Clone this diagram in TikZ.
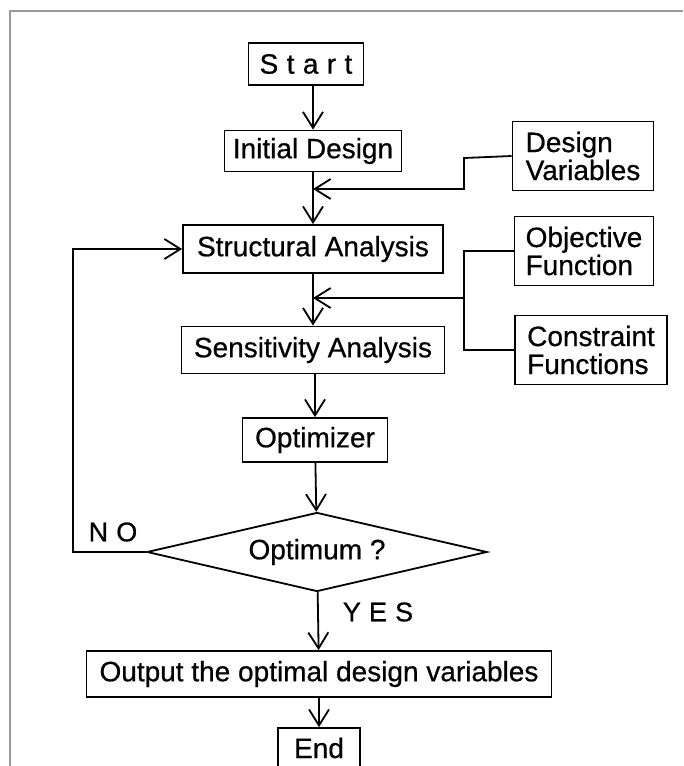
\documentclass[tikz,border=0pt]{standalone}
\usepackage{fontspec}
\setmainfont{Liberation Sans}[FakeBold=0.6]
\newfontfamily\spaced[LetterSpace=30, FakeBold=0.6]{Liberation Sans}
\usetikzlibrary{arrows.meta, shapes.geometric}

\begin{document}
\begin{tikzpicture}[x=1pt, y=-1pt, line width=1.8pt, flow/.style={-{Straight Barb[length=16pt, width=20pt]}}, block/.style={draw, inner sep=0pt, font=\fontsize{28}{28}\selectfont}, side/.style={block, align=left, minimum height=69pt}, decide/.style={draw, diamond, aspect=4.3, inner sep=0pt, minimum width=340pt, minimum height=79pt, font=\fontsize{28}{28}\selectfont}, label/.style={font=\fontsize{27}{28}\selectfont\spaced}]

\useasboundingbox (0,0) rectangle (683,766);
\draw[gray!80, line width=1.5pt] (683,11) -- (10,11) -- (10,766);

% main column
\node[block, minimum width=115pt, minimum height=42pt] (start) at (306,64) {\spaced Start};
\node[block, minimum width=177pt, minimum height=41pt] (init) at (313,151) {Initial Design};
\node[block, minimum width=260pt, minimum height=48pt] (struct) at (313,249) {Structural Analysis};
\node[block, minimum width=263pt, minimum height=47pt] (sens) at (313,350) {Sensitivity Analysis};
\node[block, minimum width=145pt, minimum height=44pt] (opt) at (315,440) {Optimizer};
\node[decide] (check) at (317,552) {Optimum ?};
\node[block, minimum width=465pt, minimum height=46pt] (output) at (319,674) {Output the optimal design variables};
\node[block, minimum width=82pt, minimum height=40pt] (finish) at (319,748) {End};

% inputs on the right
\node[side, minimum width=141pt] (dvar) at (583,156) {Design\\Variables};
\node[side, minimum width=139pt] (objf) at (584,251) {Objective\\Function};
\node[side, minimum width=152pt] (conf) at (591,350) {Constraint\\Functions};

\coordinate (jdv) at (313,189); \coordinate (bend) at (464,158); \coordinate (bus) at (464,298); \coordinate (jsa) at (313,298); \coordinate (back) at (73,552);

\draw[flow] (start.south -| init.north) -- (init);
\draw[flow] (init) -- (struct);
\draw[flow] (dvar.west) -- (bend) |- (jdv);
\draw[flow] (struct) -- (sens);
\draw (objf.west) -| (bus) |- (conf.west);
\draw[flow] (bus) -- (jsa);
\draw[flow] (sens.south -| opt.north) -- (opt);
\draw[flow] (opt) -- (check);
\draw[flow] (check) -- (output);
\draw[flow] (output) -- (finish);
\draw[flow] (check.west) -- (back) |- (struct.west);

\node[label] at (113,532) {NO};
\node[label] at (378,612) {YES};
\end{tikzpicture}
\end{document}
